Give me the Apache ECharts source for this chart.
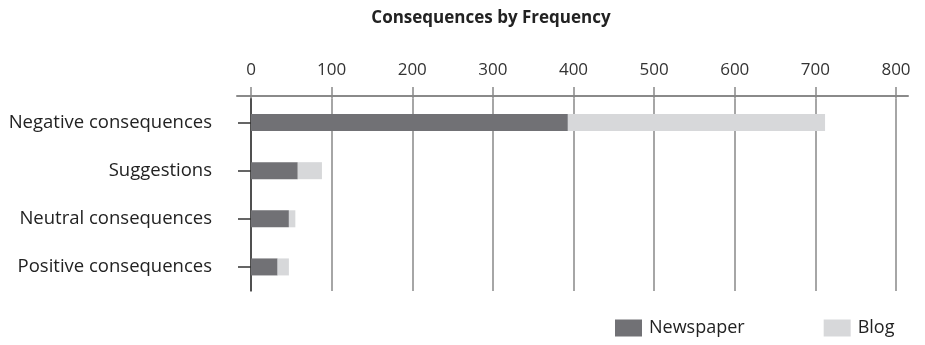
<!DOCTYPE html>
<html>
<head>
<meta charset="utf-8">
<script src="https://cdn.jsdelivr.net/npm/echarts@6/dist/echarts.min.js"></script>
<style>
html,body{margin:0;padding:0;background:#fff;}
#chart{width:925px;height:345px;}
</style>
</head>
<body>
<div id="chart"></div>
<script>
const categories = ['Negative consequences', 'Suggestions', 'Neutral consequences', 'Positive consequences'];
const newspaper = [393, 58, 47, 33];
const blog = [319, 30, 8, 14];
const xTicks = [0, 100, 200, 300, 400, 500, 600, 700, 800];

const FONT = '"Open Sans", "Noto Sans", sans-serif';
const chart = echarts.init(document.getElementById('chart'));
chart.setOption({
  backgroundColor: '#fff',
  animation: false,
  title: {
    text: 'Consequences by Frequency',
    left: 486, textAlign: 'center', top: 5,
    textStyle: { fontFamily: FONT, fontSize: 17, fontWeight: 'bold', color: '#222' }
  },
  legend: {
    data: ['Newspaper', 'Blog'],
    left: 610, top: 314,
    itemWidth: 27, itemHeight: 17, itemGap: 79,
    icon: 'rect',
    textStyle: { fontFamily: FONT, fontSize: 18, color: '#222', padding: [0, 0, 0, 2] }
  },
  grid: [
    { left: 251, right: 29, top: 98.5, bottom: 54 },
    { left: 237, right: 17, top: 94.5, height: 1 }
  ],
  xAxis: [
    {
      type: 'value', gridIndex: 0, position: 'top',
      min: xTicks[0], max: xTicks[xTicks.length - 1], interval: 100,
      axisLine: { show: false },
      axisTick: { show: true, length: 11.5, lineStyle: { color: '#888', width: 1.5 } },
      axisLabel: { margin: 20, fontFamily: FONT, fontSize: 17, color: '#333' },
      splitLine: { show: true, lineStyle: { color: '#888', width: 1.5 } }
    },
    {
      type: 'value', gridIndex: 1, position: 'top', min: 0, max: 1,
      axisLine: { show: true, lineStyle: { color: '#8a8a8a', width: 2 } },
      axisTick: { show: false }, axisLabel: { show: false }, splitLine: { show: false }
    }
  ],
  yAxis: [
    {
      type: 'category', gridIndex: 0, data: categories, inverse: true,
      axisLine: { show: true, lineStyle: { color: '#333', width: 1.5 } },
      axisTick: { show: true, alignWithLabel: true, length: 13, lineStyle: { color: '#333', width: 1.5 } },
      axisLabel: { margin: 39, fontFamily: FONT, fontSize: 18.5, color: '#222' }
    },
    {
      type: 'value', gridIndex: 1, show: false
    }
  ],
  series: [
    {
      name: 'Newspaper', type: 'bar', stack: 'total', data: newspaper,
      barWidth: 17, itemStyle: { color: '#717175' }
    },
    {
      name: 'Blog', type: 'bar', stack: 'total', data: blog,
      barWidth: 17, itemStyle: { color: '#d7d8da' }
    }
  ]
});
</script>
</body>
</html>
